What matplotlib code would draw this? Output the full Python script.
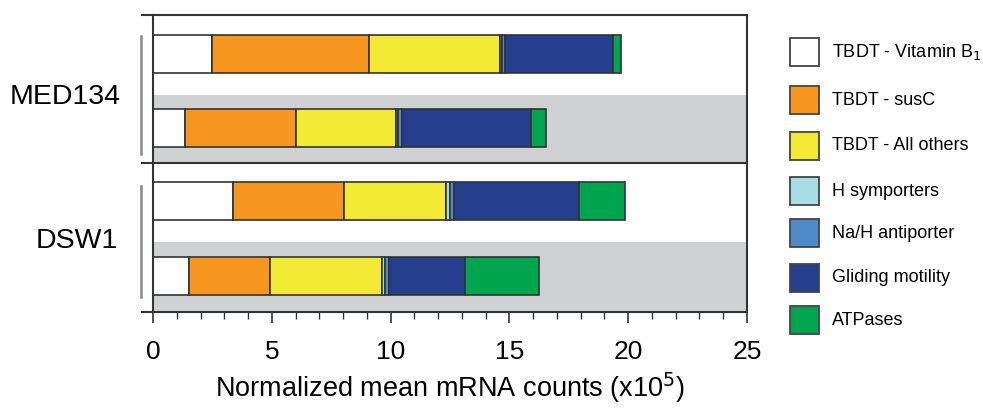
import matplotlib
matplotlib.use("Agg")
import matplotlib.pyplot as plt
from matplotlib.patches import Rectangle
import numpy as np

plt.rcParams['font.family'] = ['Liberation Sans', 'DejaVu Sans']

strains = ["MED134", "DSW1"]
categories = ["TBDT - Vitamin B$_1$", "TBDT - susC", "TBDT - All others",
              "H symporters", "Na/H antiporter", "Gliding motility", "ATPases"]
colors = ["#FFFFFF", "#F7971F", "#F2EA35", "#A8DDE6", "#4F8BC9", "#253E8D", "#00A550"]

# rows: MED134 (light), MED134 (dark), DSW1 (light), DSW1 (dark)
vitb1      = [2.49, 1.34, 3.35, 1.51]
susc       = [6.60, 4.67, 4.69, 3.41]
tbdt_other = [5.52, 4.20, 4.30, 4.72]
h_symp     = [0.08, 0.10, 0.14, 0.12]
nah        = [0.14, 0.17, 0.18, 0.16]
gliding    = [4.51, 5.44, 5.25, 3.23]
atpases    = [0.35, 0.62, 1.95, 3.11]
series = [vitb1, susc, tbdt_other, h_symp, nah, gliding, atpases]

xticks = [0, 5, 10, 15, 20, 25]

W, H = 983, 411
fig = plt.figure(figsize=(W/100, H/100), dpi=100)
ax = fig.add_axes([153/W, (H-312)/H, (747-153)/W, (312-15)/H])
ax.set_xlim(0, 25)
ax.set_ylim(4, 0)

ypos = [0.52, 1.52, 2.50, 3.52]
bh = 0.51
LC = "#333333"

# gray bands
for y0, y1 in [(1.074, 2.0), (3.056, 4.0)]:
    ax.add_patch(Rectangle((0, y0), 25, y1 - y0,
                           facecolor="#D0D1D3", edgecolor="none", zorder=0))

left = np.zeros(4)
for vals, col in zip(series, colors):
    ax.barh(ypos, vals, left=left, height=bh, color=col, edgecolor=LC,
            linewidth=1.2, zorder=2)
    left = left + np.array(vals)

# horizontal lines (top, separator, bottom) extending left of axis
for yl in [0.0, 2.0, 4.0]:
    ax.plot([-0.5, 25], [yl, yl], color=LC, lw=1.5, clip_on=False, zorder=3,
            solid_capstyle="butt")

for s in ["top", "bottom"]:
    ax.spines[s].set_visible(False)
for s in ["left", "right"]:
    ax.spines[s].set_linewidth(1.5)
    ax.spines[s].set_color(LC)

ax.set_yticks([])
ax.set_xticks(xticks)
ax.set_xticks(np.arange(0, 26, 1), minor=True)
ax.tick_params(axis="x", which="major", length=8, width=1.2, color=LC,
               labelsize=19, pad=12)
ax.tick_params(axis="x", which="minor", length=5, width=1.0, color=LC)
ax.set_xlabel("Normalized mean mRNA counts (x10$^5$)", fontsize=19.5, labelpad=5)

# group brackets
ax.plot([-0.5, -0.5], [0.28, 1.87], color="#888888", lw=1.8, clip_on=False)
ax.plot([-0.5, -0.5], [2.30, 3.80], color="#888888", lw=1.8, clip_on=False)
ax.text(-1.35, 1.10, strains[0], fontsize=20.5, ha="right", va="center")
ax.text(-1.47, 3.04, strains[1], fontsize=20.5, ha="right", va="center")

# legend
ly = [52, 100, 146, 191, 233, 278, 320]
for y, lab, col in zip(ly, categories, colors):
    fig.patches.append(Rectangle((790/W, (H-y-14)/H), 29/W, 28/H, facecolor=col,
                                 edgecolor="#444444", lw=1.3, transform=fig.transFigure))
    fig.text(832/W, (H-y)/H, lab, fontsize=13, va="center", ha="left")

fig.savefig("out.png", dpi=100)
